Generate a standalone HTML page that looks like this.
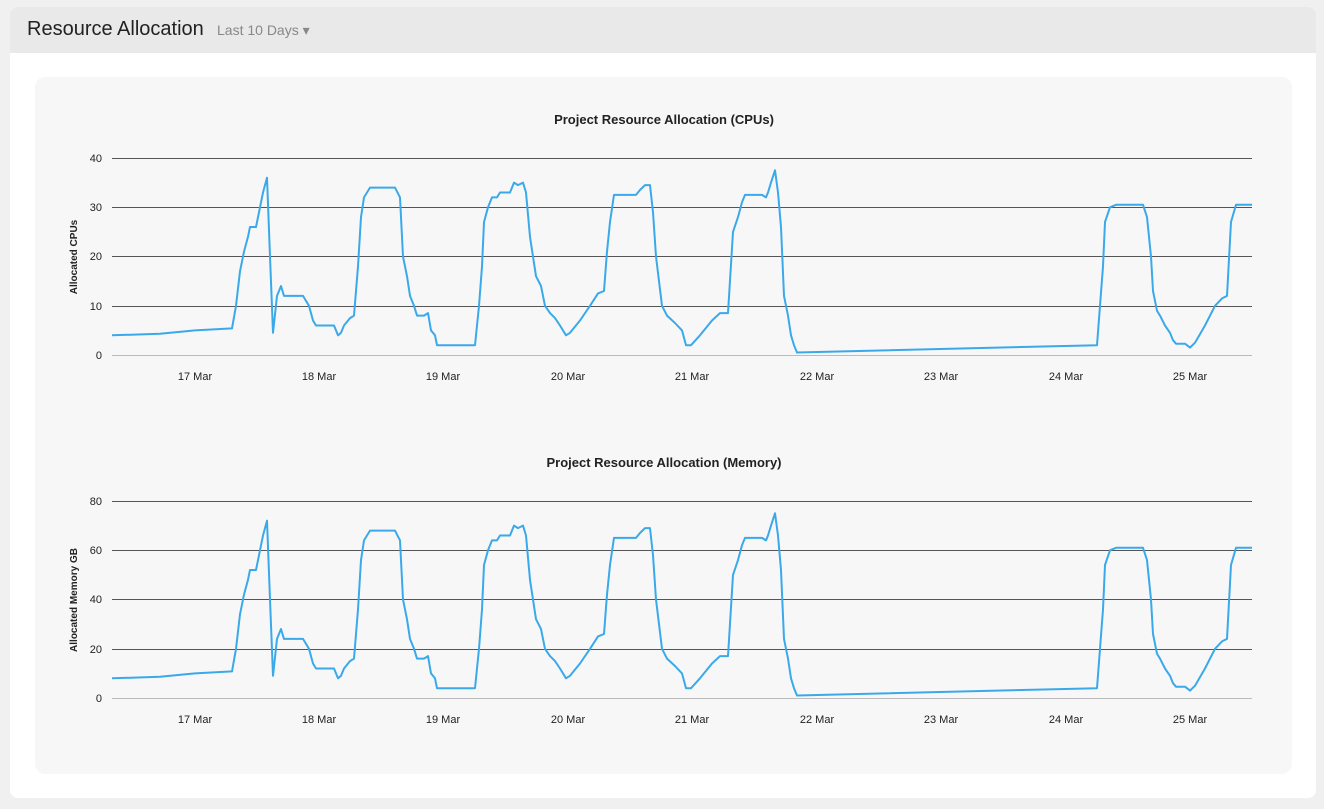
<!DOCTYPE html>
<html><head><meta charset="utf-8"><style>
html,body{margin:0;padding:0;width:1324px;height:809px;background:#f0f0f0;overflow:hidden;font-family:"Liberation Sans",Arial,sans-serif}
.card{position:absolute;left:10px;top:7px;width:1306px;height:791px;background:#fff;border-radius:8px;overflow:hidden}
.hdr{position:absolute;left:0;top:0;width:1306px;height:46px;background:#e9e9e9}
.t{position:absolute;left:17px;top:11px;font-size:20px;color:#222}
.d{position:absolute;left:207px;top:15px;font-size:14px;color:#888}
.panel{position:absolute;left:25px;top:70px;width:1257px;height:697px;background:#f7f7f7;border-radius:10px}
svg{position:absolute;left:0;top:0}
</style></head><body>
<div class="card"><div class="hdr"><div class="t">Resource Allocation</div><div class="d">Last 10 Days ▾</div></div>
<div class="panel"></div></div>
<svg width="1324" height="809" font-family="Liberation Sans, Arial, sans-serif">
<defs>
<path id="p" fill="none" stroke="#3aa9ea" stroke-width="2" stroke-linejoin="round" d="M112,335.3 L160,333.8 L195,330.4 L232,328.4 L236,305.8 L240,271.3 L244,251.6 L248,236.8 L250,227 L256,227 L260,207.3 L263,192.5 L267,177.7 L270,256.5 L273,332.8 L277,295.9 L281,286 L284,295.9 L290,295.9 L303,295.9 L309,305.8 L313,320.5 L316,325.5 L334,325.5 L338,335.3 L341,332.8 L344,325.5 L350,318.1 L354,315.6 L358,266.4 L361,217.1 L364,197.4 L370,187.6 L395,187.6 L400,197.4 L403,256.5 L407,276.2 L410,295.9 L414,305.8 L417,315.6 L424,315.6 L428,313.1 L431,330.4 L435,335.3 L437,345.2 L475,345.2 L479,305.8 L482,266.4 L484,222 L488,207.3 L492,197.4 L497,197.4 L500,192.5 L510,192.5 L514,182.6 L518,185.1 L523,182.6 L526,192.5 L530,236.8 L533,256.5 L536,276.2 L541,286 L545,305.8 L550,313.1 L555,318.1 L560,325.5 L566,335.3 L570,332.8 L580,320.5 L590,305.8 L598,293.4 L604,291 L607,251.6 L610,222 L614,194.9 L636,194.9 L640,190 L645,185.1 L650,185.1 L653,212.2 L656,256.5 L659,281.1 L662,305.8 L667,315.6 L675,323 L682,330.4 L686,345.2 L691,345.2 L700,335.3 L712,320.5 L720,313.1 L728,313.1 L733,231.9 L738,217.1 L742,202.3 L745,194.9 L762,194.9 L766,197.4 L768,192.5 L771,182.6 L775,170.3 L778,192.5 L781,227 L784,295.9 L788,315.6 L791,335.3 L794,345.2 L797,352.5 L1097,345.2 L1100,305.8 L1103,266.4 L1105,222 L1110,207.3 L1116,204.8 L1143,204.8 L1147,217.1 L1151,256.5 L1153,291 L1157,310.7 L1160,315.6 L1165,325.5 L1170,332.8 L1173,340.2 L1176,343.7 L1185,343.7 L1190,347.6 L1195,342.7 L1205,325.5 L1215,305.8 L1222,298.4 L1227,295.9 L1231,222 L1236,204.8 L1252,204.8"/>
</defs>
<g font-size="11" fill="#222">
<text x="664" y="124" text-anchor="middle" font-weight="bold" font-size="13">Project Resource Allocation (CPUs)</text>
<g stroke="#555" stroke-width="1"><line x1="112" x2="1252" y1="158.5" y2="158.5"/><line x1="112" x2="1252" y1="207.5" y2="207.5"/><line x1="112" x2="1252" y1="256.5" y2="256.5"/><line x1="112" x2="1252" y1="306.5" y2="306.5"/></g>
<line x1="112" x2="1252" y1="355.5" y2="355.5" stroke="#bbb"/>
<g text-anchor="end"><text x="102" y="162">40</text><text x="102" y="211">30</text><text x="102" y="260">20</text><text x="102" y="310">10</text><text x="102" y="359">0</text></g>
<text transform="translate(77,257) rotate(-90)" text-anchor="middle" font-weight="bold" font-size="10">Allocated CPUs</text>
<g text-anchor="middle"><text x="195" y="380">17 Mar</text><text x="319" y="380">18 Mar</text><text x="443" y="380">19 Mar</text><text x="568" y="380">20 Mar</text><text x="692" y="380">21 Mar</text><text x="817" y="380">22 Mar</text><text x="941" y="380">23 Mar</text><text x="1066" y="380">24 Mar</text><text x="1190" y="380">25 Mar</text></g>
<use href="#p"/>

<text x="664" y="467" text-anchor="middle" font-weight="bold" font-size="13">Project Resource Allocation (Memory)</text>
<g stroke="#555" stroke-width="1"><line x1="112" x2="1252" y1="501.5" y2="501.5"/><line x1="112" x2="1252" y1="550.5" y2="550.5"/><line x1="112" x2="1252" y1="599.5" y2="599.5"/><line x1="112" x2="1252" y1="649.5" y2="649.5"/></g>
<line x1="112" x2="1252" y1="698.5" y2="698.5" stroke="#bbb"/>
<g text-anchor="end"><text x="102" y="505">80</text><text x="102" y="554">60</text><text x="102" y="603">40</text><text x="102" y="653">20</text><text x="102" y="702">0</text></g>
<text transform="translate(77,600) rotate(-90)" text-anchor="middle" font-weight="bold" font-size="10">Allocated Memory GB</text>
<g text-anchor="middle"><text x="195" y="723">17 Mar</text><text x="319" y="723">18 Mar</text><text x="443" y="723">19 Mar</text><text x="568" y="723">20 Mar</text><text x="692" y="723">21 Mar</text><text x="817" y="723">22 Mar</text><text x="941" y="723">23 Mar</text><text x="1066" y="723">24 Mar</text><text x="1190" y="723">25 Mar</text></g>
<use href="#p" transform="translate(0,343)"/>
</g>
</svg>
</body></html>
